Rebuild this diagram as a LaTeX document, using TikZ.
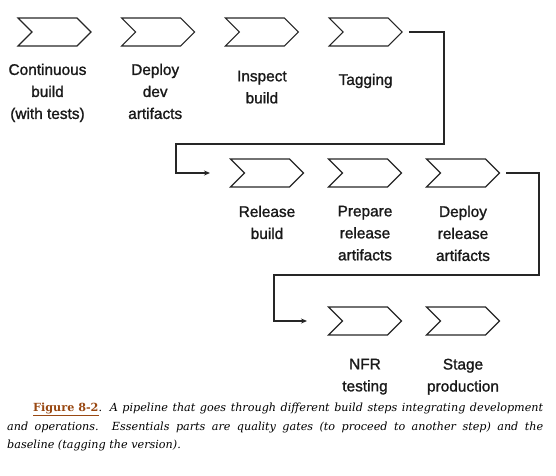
\documentclass[tikz,border=0pt]{standalone}
\usepackage{fontspec}
\setmainfont[FakeBold=1.3]{Liberation Sans}
\newfontfamily\capfont{DejaVu Serif}
\usetikzlibrary{shapes.symbols, positioning, arrows.meta}
\definecolor{figlink}{RGB}{153,72,18}
\tikzstyle{chevron} = [signal, signal from=west, signal to=east, signal pointer angle=90, draw=black!85, line width=1.1pt, minimum width=73pt, minimum height=28pt, inner sep=0pt, on grid]
\tikzstyle{steplabel} = [align=center, inner sep=0pt, text=black!90, font=\fontsize{15.4}{22}\selectfont]
\tikzstyle{arrow} = [line width=1.1pt, draw=black!85, -{Stealth[length=6pt,width=5pt]}]

\begin{document}
\begin{tikzpicture}[x=1pt, y=-1pt, node distance=103.7pt]
    \useasboundingbox (0,0) rectangle (556,475);

    % Etapas
    \node (c1) [chevron] at (54.5,32) {};
    \node (c2) [chevron, right=of c1] {};
    \node (c3) [chevron, right=of c2] {};
    \node (c4) [chevron, right=of c3] {};

    \node (c5) [chevron] at (267,173) {};
    \node (c6) [chevron, right=98pt of c5] {};
    \node (c7) [chevron, right=98pt of c6] {};

    \node (c8) [chevron] at (365,321) {};
    \node (c9) [chevron, right=98pt of c8] {};

    % Textos
    \node (t1) [steplabel, below=17pt of c1, xshift=-7pt] {Continuous\\build\\(with tests)};
    \node (t2) [steplabel, below=17pt of c2, xshift=-3pt] {Deploy\\dev\\artifacts};
    \node (t3) [steplabel, below=24pt of c3] {Inspect\\build};
    \node (t4) [steplabel, below=27pt of c4] {Tagging};

    \node (t5) [steplabel, below=18pt of c5] {Release\\build};
    \node (t6) [steplabel, below=18pt of c6] {Prepare\\release\\artifacts};
    \node (t7) [steplabel, below=18pt of c7] {Deploy\\release\\artifacts};

    \node (t8) [steplabel, below=23pt of c8] {NFR\\testing};
    \node (t9) [steplabel, below=23pt of c9] {Stage\\production};

    % Conexoes
    \coordinate (b1) at (444,144);
    \coordinate (b2) at (176,173);
    \coordinate (in1) at (210,173);
    \coordinate (b3) at (539,275);
    \coordinate (b4) at (274,321);
    \coordinate (in2) at (307,321);
    \draw [arrow, shorten <=6pt] (c4.east) -| (b1) -| (b2) -- (in1);
    \draw [arrow, shorten <=6pt] (c7.east) -| (b3) -| (b4) -- (in2);

    % Legenda
    \node (caption) [anchor=north west, text width=536pt, inner sep=0pt, align=justify, font=\capfont\fontsize{11.2}{18.5}\selectfont] at (7,403)
        {\hyphenpenalty=10000\relax\hspace*{26pt}\textcolor{figlink}{\textbf{\underline{Figure 8-2}}}. \textit{A pipeline that goes through different build steps integrating development\linebreak and operations. Essentials parts are quality gates (to proceed to another step) and the\linebreak baseline (tagging the version).}};

    \end{tikzpicture}
\end{document}
